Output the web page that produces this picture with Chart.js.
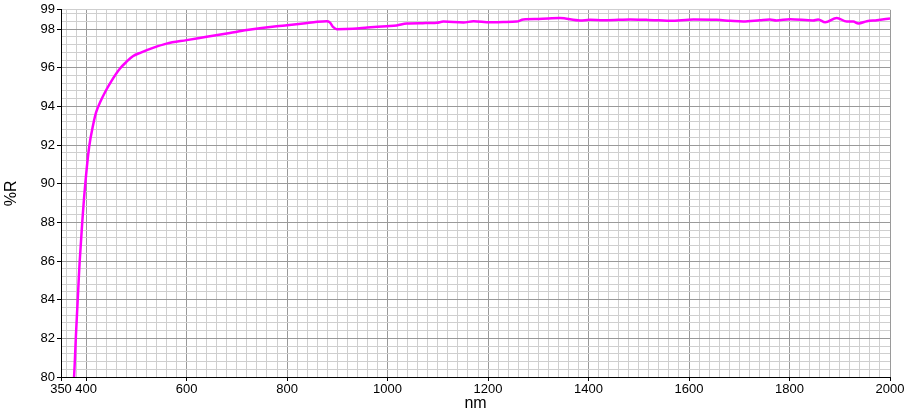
<!DOCTYPE html>
<html>
<head>
<meta charset="utf-8">
<script src="https://cdn.jsdelivr.net/npm/chart.js@4/dist/chart.umd.min.js"></script>
<style>
  html, body { margin: 0; padding: 0; background: #fff; }
  canvas { display: block; }
</style>
</head>
<body>
<canvas id="spectrum" width="909" height="412"></canvas>
<script>
const wavelength = [
  374, 376, 380, 385, 387, 392, 398, 406, 414, 420, 429, 440, 450, 467, 480, 493,
  510, 533, 560, 600, 640, 686, 720, 779, 800, 832, 860, 879, 885, 892, 899, 931,
  960, 998, 1018, 1038, 1070, 1098, 1111, 1151, 1171, 1204, 1230, 1257, 1270,
  1300, 1343, 1383, 1403, 1429, 1460, 1483, 1516, 1540, 1562, 1609, 1655, 1682,
  1708, 1741, 1761, 1774, 1801, 1847, 1857, 1871, 1894, 1914, 1927, 1937, 1954,
  1974, 2000
];
const reflectance = [
  79.4, 80.0, 82.3, 84.9, 85.9, 87.9, 89.9, 91.9, 93.05, 93.7, 94.28, 94.85, 95.3, 95.95, 96.3, 96.6,
  96.8, 97.03, 97.25, 97.43, 97.6, 97.8, 97.95, 98.15, 98.2, 98.29, 98.38, 98.41, 98.35, 98.1, 98.0, 98.02,
  98.08, 98.15, 98.19, 98.29, 98.31, 98.33, 98.39, 98.34, 98.41, 98.35, 98.37, 98.39, 98.5,
  98.52, 98.57, 98.45, 98.48, 98.46, 98.48, 98.5, 98.48, 98.46, 98.43, 98.5, 98.48, 98.43,
  98.39, 98.46, 98.5, 98.45, 98.51, 98.45, 98.5, 98.36, 98.58, 98.39, 98.39, 98.29, 98.41,
  98.46, 98.55
];

const xMin = 350, xMax = 2000;
const yMin = 80, yMax = 99;
const xLabels = [350, 400, 600, 800, 1000, 1200, 1400, 1600, 1800, 2000];
const yLabels = [80, 82, 84, 86, 88, 90, 92, 94, 96, 98, 99];

// minor grid: 20 nm and 0.4 %R
const xGrid = [350];
for (let v = 360; v <= xMax; v += 20) xGrid.push(v);
const yGrid = [];
for (let i = 0; i <= 47; i++) yGrid.push(Math.round((yMin + i * 0.4) * 10) / 10);
yGrid.push(yMax);

const points = wavelength.map((x, i) => ({ x: x, y: reflectance[i] }));

const font = { family: "'Liberation Sans', Arial, sans-serif", size: 13 };

new Chart(document.getElementById("spectrum").getContext("2d"), {
  type: "line",
  data: {
    datasets: [
      {
        data: points,
        borderColor: "#ff00ff",
        borderWidth: 2.5,
        pointRadius: 0,
        fill: false,
        cubicInterpolationMode: "monotone",
      },
    ],
  },
  options: {
    responsive: false,
    animation: false,
    devicePixelRatio: 1,
    layout: { padding: { top: 9, right: 19, left: 0, bottom: 0 } },
    plugins: { legend: { display: false }, tooltip: { enabled: false } },
    scales: {
      x: {
        type: "linear",
        min: xMin,
        max: xMax,
        afterBuildTicks: (s) => { s.ticks = xGrid.map((v) => ({ value: v })); },
        afterFit: (s) => { s.height = 35; },
        border: { color: "#000", width: 1 },
        grid: {
          color: (c) => (xLabels.includes(c.tick.value) ? "#9a9a9a" : "#cfcfcf"),
          tickColor: (c) => (xLabels.includes(c.tick.value) ? "#000" : "rgba(0,0,0,0)"),
          tickLength: 4,
        },
        ticks: {
          autoSkip: false,
          maxRotation: 0,
          padding: 1,
          color: "#000",
          font: font,
          callback: (v) => (xLabels.includes(v) ? String(v) : ""),
        },
        title: {
          display: true,
          text: "nm",
          color: "#000",
          font: { family: font.family, size: 16, lineHeight: 1 },
          padding: { top: 0, bottom: 0 },
        },
      },
      y: {
        min: yMin,
        max: yMax,
        afterBuildTicks: (s) => { s.ticks = yGrid.map((v) => ({ value: v })); },
        afterFit: (s) => { s.width = 61; },
        border: { color: "#000", width: 1 },
        grid: {
          color: (c) => (c.tick.value % 2 === 0 ? "#9a9a9a" : "#cfcfcf"),
          tickColor: (c) => (yLabels.includes(c.tick.value) ? "#000" : "rgba(0,0,0,0)"),
          tickLength: 4,
        },
        ticks: {
          autoSkip: false,
          padding: 2,
          color: "#000",
          font: font,
          callback: (v) => (yLabels.includes(v) ? String(v) : ""),
        },
        title: {
          display: true,
          text: "%R",
          color: "#000",
          font: { family: font.family, size: 16, lineHeight: 1.2 },
          padding: { top: 2, bottom: 0 },
        },
      },
    },
  },
});
</script>
</body>
</html>
